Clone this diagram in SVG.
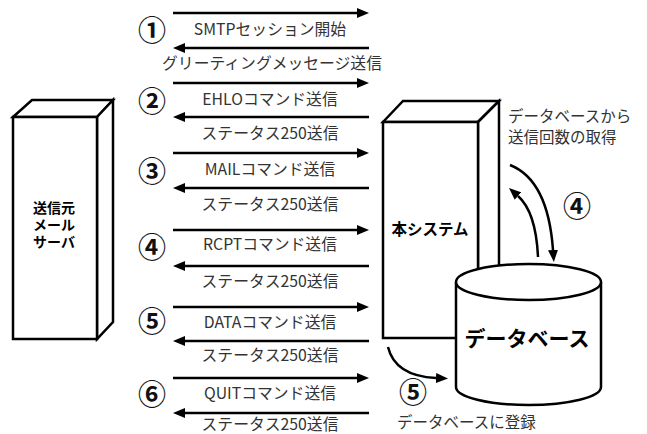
<svg xmlns="http://www.w3.org/2000/svg" width="647" height="434" viewBox="0 0 647 434">
<defs>
<marker id="ah" viewBox="0 0 12 10" refX="0" refY="5" markerWidth="12" markerHeight="10" markerUnits="userSpaceOnUse" orient="auto"><path d="M0,0 L12,5 L0,10 z" fill="#000"/></marker>
</defs>
<style>
.ln{stroke:#000;stroke-width:2.5;fill:none}
.sh{stroke:#000;stroke-width:2.5;fill:#fff;stroke-linejoin:miter}
.t{font-family:"Noto Sans CJK JP","Noto Sans",sans-serif;font-size:15.8px;fill:#333;text-anchor:middle}
.tl{font-family:"Noto Sans CJK JP","Noto Sans",sans-serif;font-size:15.5px;fill:#333}
.n{font-family:"Noto Sans CJK JP","Noto Sans",sans-serif;font-size:28px;font-weight:bold;fill:#111;text-anchor:middle}
.b{font-family:"Noto Sans CJK JP","Noto Sans",sans-serif;font-size:15.5px;font-weight:bold;fill:#000;text-anchor:middle}
.bs{font-family:"Noto Sans CJK JP","Noto Sans",sans-serif;font-size:14px;font-weight:bold;fill:#000;text-anchor:middle}
</style>
<rect width="647" height="434" fill="#fff"/>
<g id="sender">
<polygon class="sh" points="13,117 32,100 113,100 97,117"/>
<polygon class="sh" points="97,117 113,100 113,322 97,339"/>
<rect class="sh" x="13" y="117" width="84" height="222"/>
<text class="bs" x="54" y="213"><tspan x="54" y="213">送信元</tspan><tspan x="54" y="230">メール</tspan><tspan x="54" y="247">サーバ</tspan></text>
</g>
<g id="system">
<polygon class="sh" points="383,122 403,101 499,101 478,122"/>
<polygon class="sh" points="478,122 499,101 499,300 478,320"/>
<rect class="sh" x="383" y="122" width="95" height="216"/>
<text class="b" x="430" y="235">本システム</text>
</g>
<g id="database">
<path class="sh" d="M456,282 V387 A72.5,18 0 0 0 601,387 V282"/>
<ellipse class="sh" cx="528.5" cy="282" rx="72.5" ry="18"/>
<text x="527" y="346" font-family="'Noto Sans CJK JP','Noto Sans',sans-serif" font-size="21" font-weight="bold" text-anchor="middle" fill="#000">データベース</text>
</g>
<g id="connectors">
<path class="ln" d="M173,13 H357" marker-end="url(#ah)"/>
<path class="ln" d="M369,48 H185" marker-end="url(#ah)"/>
<path class="ln" d="M173,83 H357" marker-end="url(#ah)"/>
<path class="ln" d="M369,117 H185" marker-end="url(#ah)"/>
<path class="ln" d="M173,153 H357" marker-end="url(#ah)"/>
<path class="ln" d="M369,188 H185" marker-end="url(#ah)"/>
<path class="ln" d="M173,230 H357" marker-end="url(#ah)"/>
<path class="ln" d="M369,266 H185" marker-end="url(#ah)"/>
<path class="ln" d="M173,307 H357" marker-end="url(#ah)"/>
<path class="ln" d="M369,341 H185" marker-end="url(#ah)"/>
<path class="ln" d="M173,378 H357" marker-end="url(#ah)"/>
<path class="ln" d="M369,413 H185" marker-end="url(#ah)"/>
<path class="ln" d="M510,165 Q548,180 553,250" marker-end="url(#ah)"/>
<path class="ln" d="M538,257 Q536,212 518,196" marker-end="url(#ah)"/>
<path class="ln" d="M388,347 Q395,376 436,378" marker-end="url(#ah)"/>
</g>
<g id="labels">
<text class="n" x="152" y="41">①</text>
<text class="n" x="152" y="112">②</text>
<text class="n" x="152" y="182">③</text>
<text class="n" x="152" y="258">④</text>
<text class="n" x="152" y="332">⑤</text>
<text class="n" x="152" y="405">⑥</text>
<text class="n" x="577" y="217">④</text>
<text class="n" x="413" y="403">⑤</text>
<text class="t" x="270" y="35">SMTPセッション開始</text>
<text class="t" x="272" y="69">グリーティングメッセージ送信</text>
<text class="t" x="270" y="105">EHLOコマンド送信</text>
<text class="t" x="270" y="139">ステータス250送信</text>
<text class="t" x="270" y="175">MAILコマンド送信</text>
<text class="t" x="270" y="210">ステータス250送信</text>
<text class="t" x="270" y="250">RCPTコマンド送信</text>
<text class="t" x="270" y="287">ステータス250送信</text>
<text class="t" x="270" y="328">DATAコマンド送信</text>
<text class="t" x="270" y="361">ステータス250送信</text>
<text class="t" x="270" y="399">QUITコマンド送信</text>
<text class="t" x="270" y="430">ステータス250送信</text>
<text class="tl" x="508" y="122">データベースから</text>
<text class="tl" x="508" y="143">送信回数の取得</text>
<text class="tl" x="397" y="428">データベースに登録</text>
</g>
</svg>
